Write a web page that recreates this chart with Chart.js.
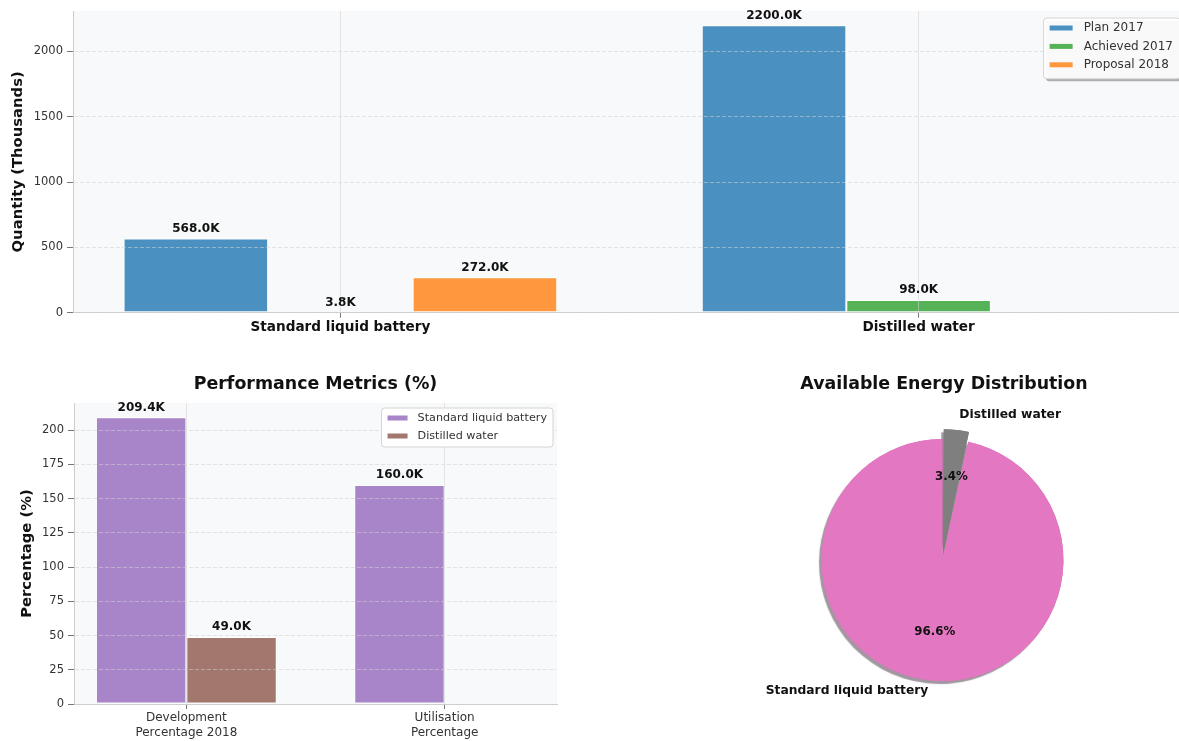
<!DOCTYPE html>
<html><head><meta charset="utf-8">
<script src="https://cdn.jsdelivr.net/npm/chart.js@4.4.0/dist/chart.umd.min.js"></script>
<style>
html,body{margin:0;padding:0;background:#fff;overflow:hidden;width:1179px;height:741px;}
canvas{position:absolute;}
</style></head><body>
<canvas id="topChart" width="1190" height="345" style="left:0;top:0;width:1190px;height:345px"></canvas>
<canvas id="metricChart" width="590" height="381" style="left:0;top:360px;width:590px;height:381px"></canvas>
<canvas id="pieChart" width="589" height="381" style="left:590px;top:360px;width:589px;height:381px"></canvas>
<script>
// ---------- data ----------
const categories = ['Standard liquid battery', 'Distilled water'];
const seriesNames = ['Plan 2017', 'Achieved 2017', 'Proposal 2018'];
const plan2017 = [568.0, 2200.0];
const achieved2017 = [3.8, 98.0];
const proposal2018 = [272.0, 0];
const quantityTicks = [0, 500, 1000, 1500, 2000];

const metricCategories = [['Development', 'Percentage 2018'], ['Utilisation', 'Percentage']];
const metricSeriesNames = ['Standard liquid battery', 'Distilled water'];
const metricBattery = [209.4, 160.0];
const metricWater = [49.0, 0];
const percentTicks = [0, 25, 50, 75, 100, 125, 150, 175, 200];

const energyLabels = ['Standard liquid battery', 'Distilled water'];
const energyShares = [96.6, 3.4];

// ---------- style ----------
const FONT = '"DejaVu Sans", "Liberation Sans", sans-serif';
Chart.defaults.font.family = FONT;
Chart.defaults.color = '#333';
const topColors = ['#4a91c2', '#56b256', '#fe973d'];
const metricColors = ['#a884c9', '#a2776e'];
const pieColors = ['#e377c2', '#7f7f7f'];
const GRID = 'rgba(210,210,210,0.55)';

function toPoints(arr) { return arr.map((v, i) => ({x: i, y: v === 0 ? null : v})); }

// ---------- plugins ----------
const plotBg = {
  id: 'plotBg',
  beforeDraw(chart, args, o) {
    const {ctx, chartArea: a} = chart;
    ctx.save(); ctx.fillStyle = o.color || '#f8f9fa';
    ctx.fillRect(a.left, a.top, a.right - a.left, a.bottom - a.top);
    ctx.restore();
  }
};
const barValues = {
  id: 'barValues',
  afterDraw(chart, args, o) {
    const ctx = chart.ctx;
    ctx.save();
    ctx.font = 'bold ' + o.size + 'px ' + FONT;
    ctx.fillStyle = '#111'; ctx.textAlign = 'center'; ctx.textBaseline = 'alphabetic';
    chart.data.datasets.forEach((ds, di) => {
      chart.getDatasetMeta(di).data.forEach((el, i) => {
        const v = ds.data[i].y;
        if (v === null || v === undefined) return;
        ctx.fillText(v.toFixed(1) + 'K', el.x, el.y - o.gap);
      });
    });
    ctx.restore();
  }
};
function rr(ctx, x, y, w, h, r) {
  ctx.beginPath();
  ctx.moveTo(x + r, y); ctx.lineTo(x + w - r, y); ctx.arcTo(x + w, y, x + w, y + r, r);
  ctx.lineTo(x + w, y + h - r); ctx.arcTo(x + w, y + h, x + w - r, y + h, r);
  ctx.lineTo(x + r, y + h); ctx.arcTo(x, y + h, x, y + h - r, r);
  ctx.lineTo(x, y + r); ctx.arcTo(x, y, x + r, y, r); ctx.closePath();
}
const boxLegend = {
  id: 'boxLegend',
  afterDraw(chart, args, o) {
    const {ctx, chartArea: a} = chart;
    ctx.save();
    ctx.font = o.size + 'px ' + FONT;
    const items = chart.data.datasets.map(d => ({text: d.label, color: d.backgroundColor}));
    const tw = Math.max(...items.map(it => ctx.measureText(it.text).width));
    const w = o.padL + o.swatchW + o.gap + tw + o.padR;
    const h = o.first + (items.length - 1) * o.rowH + o.after;
    const right = a.right - o.inset, left = right - w, top = a.top + o.top;
    if (o.shadow) {
      ctx.fillStyle = 'rgba(0,0,0,0.3)';
      rr(ctx, left + 2.5, top + 2.5, w, h, 3); ctx.fill();
    }
    ctx.fillStyle = 'rgba(255,255,255,0.92)';
    rr(ctx, left, top, w, h, 3); ctx.fill();
    ctx.strokeStyle = '#d4d4d4'; ctx.lineWidth = 1; ctx.stroke();
    items.forEach((it, k) => {
      const cy = top + o.first + k * o.rowH;
      ctx.fillStyle = it.color;
      ctx.fillRect(left + o.padL, cy - o.swatchH / 2, o.swatchW, o.swatchH);
      ctx.fillStyle = '#333'; ctx.textAlign = 'left'; ctx.textBaseline = 'middle';
      ctx.fillText(it.text, left + o.padL + o.swatchW + o.gap, cy);
    });
    ctx.restore();
  }
};
const axTitle = {
  id: 'axTitle',
  afterDraw(chart, args, o) {
    const {ctx, chartArea: a} = chart;
    ctx.save();
    ctx.font = 'bold ' + o.size + 'px ' + FONT;
    ctx.fillStyle = '#111'; ctx.textAlign = 'center'; ctx.textBaseline = 'middle';
    ctx.fillText(o.text, (a.left + a.right) / 2 + (o.dx || 0), o.y);
    ctx.restore();
  }
};
const pieShadow = {
  id: 'pieShadow',
  beforeDatasetsDraw(chart, args, o) {
    const ctx = chart.ctx;
    ctx.save();
    ctx.shadowColor = o.color; ctx.shadowOffsetX = o.dx; ctx.shadowOffsetY = o.dy; ctx.shadowBlur = o.blur;
    chart.getDatasetMeta(0).data.forEach(el => el.draw(ctx));
    ctx.restore();
  }
};
const pieText = {
  id: 'pieText',
  afterDraw(chart, args, o) {
    const ctx = chart.ctx;
    const vals = chart.data.datasets[0].data;
    const total = vals.reduce((s, v) => s + v, 0);
    ctx.save();
    ctx.fillStyle = '#111'; ctx.textBaseline = 'middle';
    chart.getDatasetMeta(0).data.forEach((el, i) => {
      const mid = (el.startAngle + el.endAngle) / 2;
      const c = Math.cos(mid), s = Math.sin(mid);
      const r = el.outerRadius;
      const shift = (el.options.offset || 0) / 2;
      const lr = o.labelDist * r + shift;
      ctx.font = 'bold ' + o.labelSize + 'px ' + FONT;
      ctx.textAlign = c > 0 ? 'left' : 'right';
      ctx.fillText(chart.data.labels[i], el.x + c * lr + (c > 0 ? 1.5 : 0), el.y + s * lr - (c > 0 ? 2 : 1.5));
      const pr = o.pctDist * r + shift;
      ctx.font = 'bold ' + o.pctSize + 'px ' + FONT;
      ctx.textAlign = 'center';
      ctx.fillText((100 * vals[i] / total).toFixed(1) + '%', el.x + c * pr, el.y + s * pr);
    });
    ctx.restore();
  }
};

// ---------- scale builders ----------
function yScale(max, tickVals, title, width, titlePad) {
  return {
    type: 'linear', min: 0, max: max,
    afterBuildTicks: s => { s.ticks = tickVals.map(v => ({value: v})); },
    afterFit: s => { s.width = width; },
    ticks: {callback: v => String(v), font: {size: 11.5}, color: '#333', padding: 4, z: 1},
    grid: {color: GRID, lineWidth: 1, tickLength: 6, tickColor: '#777', tickWidth: 1, tickBorderDash: [], z: 1},
    border: {display: true, color: '#cccccc', width: 1, dash: [4, 2], z: 1},
    title: {display: true, text: title, font: {size: 14.8, weight: 'bold'}, color: '#111', padding: {top: titlePad, bottom: 0}}
  };
}
function xScale(min, max, labels, font, color, height) {
  return {
    type: 'linear', min: min, max: max, offset: false,
    afterBuildTicks: s => { s.ticks = labels.map((_, i) => ({value: i})); },
    afterFit: s => { s.height = height; },
    ticks: {callback: v => labels[v], font: font, color: color, padding: 2, maxRotation: 0, minRotation: 0, autoSkip: false, z: 1},
    grid: {offset: false, color: GRID, lineWidth: 1, tickLength: 5, tickColor: '#777', tickWidth: 1, z: 1},
    border: {display: true, color: '#cccccc', width: 1, z: 1}
  };
}

// ---------- top chart ----------
const topMax = Math.max(...plan2017, ...achieved2017, ...proposal2018) * 1.05;
new Chart(document.getElementById('topChart'), {
  type: 'bar',
  data: {
    datasets: [plan2017, achieved2017, proposal2018].map((arr, k) => ({
      label: seriesNames[k], data: toPoints(arr), backgroundColor: topColors[k],
      borderColor: 'rgba(255,255,255,0.9)', borderWidth: 1, borderSkipped: false,
      categoryPercentage: 0.75, barPercentage: 1.0
    }))
  },
  options: {
    responsive: false, animation: false, events: [],
    layout: {padding: {left: 0, right: 4, top: 11, bottom: 0}},
    scales: {
      x: xScale(-0.4625, categories.length - 1 + 0.4625, categories, {size: 13.6, weight: 'bold'}, '#111', 32.3),
      y: yScale(topMax, quantityTicks, 'Quantity (Thousands)', 73, 9)
    },
    plugins: {
      legend: {display: false}, tooltip: {enabled: false},
      plotBg: {color: '#f8f9fa'},
      barValues: {size: 12, gap: 6.5},
      boxLegend: {size: 12, inset: 6, top: 7, first: 10, rowH: 18.4, after: 14, padL: 6, swatchW: 23, swatchH: 5, gap: 11, padR: 7, shadow: true}
    }
  },
  plugins: [plotBg, barValues, boxLegend]
});

// ---------- metrics chart ----------
const metricMax = Math.max(...metricBattery, ...metricWater) * 1.05;
new Chart(document.getElementById('metricChart'), {
  type: 'bar',
  data: {
    datasets: [metricBattery, metricWater].map((arr, k) => ({
      label: metricSeriesNames[k], data: toPoints(arr), backgroundColor: metricColors[k],
      borderColor: 'rgba(255,255,255,0.9)', borderWidth: 1, borderSkipped: false,
      categoryPercentage: 0.7, barPercentage: 1.0
    }))
  },
  options: {
    responsive: false, animation: false, events: [],
    layout: {padding: {left: 0, right: 33, top: 43, bottom: 0}},
    scales: {
      x: xScale(-0.435, metricCategories.length - 1 + 0.435, metricCategories, {size: 12}, '#333', 37),
      y: yScale(metricMax, percentTicks, 'Percentage (%)', 74, 18)
    },
    plugins: {
      legend: {display: false}, tooltip: {enabled: false},
      plotBg: {color: '#f8f9fa'},
      barValues: {size: 12, gap: 6.5},
      boxLegend: {size: 11.2, inset: 4, top: 5, first: 10, rowH: 18, after: 11, padL: 6, swatchW: 20, swatchH: 5, gap: 10, padR: 6, shadow: false},
      axTitle: {text: 'Performance Metrics (%)', size: 17.4, y: 24}
    }
  },
  plugins: [plotBg, barValues, boxLegend, axTitle]
});

// ---------- pie chart ----------
const shareTotal = energyShares.reduce((s, v) => s + v, 0);
new Chart(document.getElementById('pieChart'), {
  type: 'pie',
  data: {
    labels: energyLabels,
    datasets: [{
      data: energyShares, backgroundColor: pieColors, borderWidth: 0,
      offset: [0, 22], hoverOffset: 0, radius: 121,
      rotation: 360 * energyShares[1] / shareTotal
    }]
  },
  options: {
    responsive: false, animation: false, events: [],
    layout: {padding: {left: 116, right: 0, top: 40, bottom: 21}},
    plugins: {
      legend: {display: false}, tooltip: {enabled: false},
      pieShadow: {color: 'rgba(70,45,65,0.5)', dx: -2.5, dy: 3, blur: 1},
      pieText: {labelDist: 1.1, pctDist: 0.6, labelSize: 12.3, pctSize: 11.8},
      axTitle: {text: 'Available Energy Distribution', size: 17.4, y: 24, dx: 1.5}
    }
  },
  plugins: [pieShadow, pieText, axTitle]
});
</script>
</body></html>
